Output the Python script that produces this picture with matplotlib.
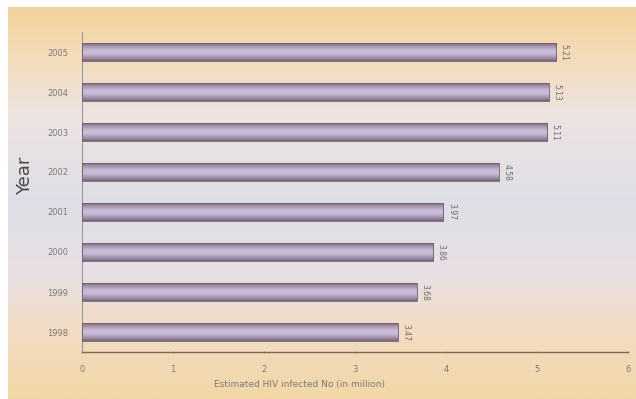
import numpy as np
import matplotlib.pyplot as plt
from matplotlib.colors import LinearSegmentedColormap

years = ["1998", "1999", "2000", "2001", "2002", "2003", "2004", "2005"]
infected = [3.47, 3.68, 3.86, 3.97, 4.58, 5.11, 5.13, 5.21]
x_ticks = [0, 1, 2, 3, 4, 5, 6]

W, H = 636, 399
fig = plt.figure(figsize=(W / 100, H / 100), dpi=100)
fig.patch.set_facecolor("white")

# background panel with warm/cool vertical gradient
bg = fig.add_axes([8 / W, 0, 1 - 8 / W, 1 - 7 / H], zorder=0)
bg_cmap = LinearSegmentedColormap.from_list(
    "bg", [(0.0, "#f2d29c"), (0.12, "#f4dcb8"), (0.28, "#ede3e2"),
           (0.5, "#dedfe7"), (0.68, "#e8e0e4"), (0.82, "#f2dcc4"),
           (1.0, "#f3d7a6")])
grad = np.linspace(0, 1, 256).reshape(-1, 1)
bg.imshow(grad, aspect="auto", cmap=bg_cmap, extent=[0, 1, 0, 1], origin="upper")
bg.axis("off")

ax = fig.add_axes([82 / W, 1 - 352 / H, (628 - 82) / W, (352 - 32) / H], zorder=1)
ax.patch.set_alpha(0)

bar_cmap = LinearSegmentedColormap.from_list(
    "bar", [(0.0, "#7a6878"), (0.12, "#9c8aa0"), (0.35, "#c4b4d2"),
            (0.55, "#cdc0dd"), (0.8, "#a695b0"), (1.0, "#76667a")])
tube = np.linspace(0, 1, 64).reshape(-1, 1)
h = 0.45
for i, v in enumerate(infected):
    im = ax.imshow(tube, aspect="auto", cmap=bar_cmap,
                   extent=[0, v, i - h / 2, i + h / 2], origin="upper", zorder=2)
    bar = ax.barh(i, v, height=h, facecolor="none", edgecolor="#6e5f6c",
                  linewidth=0.6, zorder=3)[0]
    im.set_clip_path(bar)
    ax.text(v + 0.04, i, f"{v:.2f}", rotation=-90, ha="left", va="center",
            fontsize=5.5, color="#6a6a6a", zorder=4)

ax.set_xlim(0, 6)
ax.set_ylim(-0.5, len(years) - 0.5)
ax.set_xticks(x_ticks)
ax.set_yticks(range(len(years)))
ax.set_yticklabels(years)
ax.tick_params(axis="both", labelsize=6, colors="#7a7a7a", length=2,
               width=0.6, direction="inout")
ax.tick_params(axis="y", length=0, pad=10)
ax.tick_params(axis="x", pad=8)
for s in ["top", "right"]:
    ax.spines[s].set_visible(False)
ax.spines["left"].set_color("#9a9a9a")
ax.spines["bottom"].set_color("#7b6a58")
ax.spines["left"].set_linewidth(0.8)
ax.spines["bottom"].set_linewidth(1.0)

fig.text(25 / W, 1 - 176 / H, "Year", rotation=90, ha="center", va="center",
         fontsize=13, color="#4a4a4a")
fig.text(300 / W, 1 - 385 / H, "Estimated HIV infected No (in million)",
         ha="center", va="center", fontsize=6.5, color="#7a7a7a")

fig.savefig("out.png", dpi=100)
